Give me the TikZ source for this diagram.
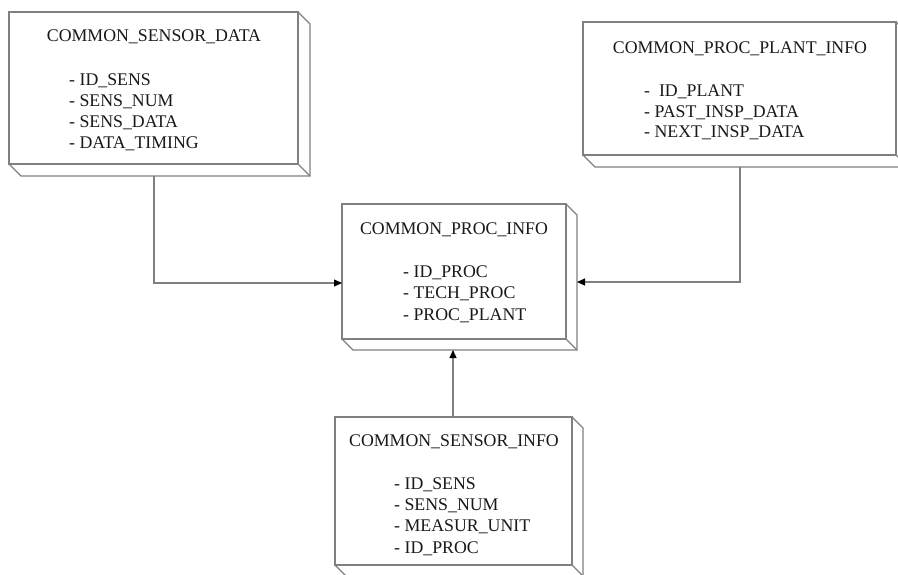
\documentclass[tikz,border=0pt]{standalone}
\usepackage{fontspec}
\setmainfont{Liberation Serif}
\usetikzlibrary{calc,arrows.meta}
\newcommand{\dd}{11pt}
% draw the right and bottom faces of a 3D box behind its front face
\newcommand{\extrudebox}[2]{%
  \draw[boxline] (#1.north east) -- ++(#2,-#2)
    -- ($(#1.south east)+(#2,-#2)$)
    -- ($(#1.south west)+(#2,-#2)$) -- (#1.south west);
  \draw[boxline] (#1.south east) -- ++(#2,-#2);}
\begin{document}
\begin{tikzpicture}[x=1pt,y=1pt,
  boxline/.style={draw=black!50,line width=1.1pt,line join=miter},
  front/.style={rectangle,draw=black!50,line width=1.1pt,inner sep=0pt,outer sep=0pt,anchor=north west},
  title/.style={anchor=base,inner sep=0pt,text=black!90,font=\fontsize{17.8}{20.7}\selectfont},
  item/.style={anchor=base west,inner sep=0pt,text=black!90,font=\fontsize{17.8}{20.7}\selectfont},
  conn/.style={draw=black!50,line width=1.1pt,-{Triangle[length=8pt,width=7pt,fill=black,color=black]}}]
\useasboundingbox (0,0) rectangle (898,-574);
\clip (0,0) rectangle (898,-574);
\fill[white] (0,0) rectangle (898,-574);

% COMMON_SENSOR_DATA
\node[front,minimum width=289pt,minimum height=152pt] (b1) at (9,-12) {};
\extrudebox{b1}{12pt}
\node[title] (t1) at (154,-41) {COMMON\_SENSOR\_DATA};
\node[item] (i11) at (69,-85) {- ID\_SENS};
\node[item] (i12) at (69,-106) {- SENS\_NUM};
\node[item] (i13) at (69,-127) {- SENS\_DATA};
\node[item] (i14) at (69,-148) {- DATA\_TIMING};

% COMMON_PROC_PLANT_INFO
\node[front,minimum width=313pt,minimum height=133pt] (b2) at (583,-22) {};
\extrudebox{b2}{12pt}
\node[title] (t2) at (740,-53) {COMMON\_PROC\_PLANT\_INFO};
\node[item] (i21) at (644,-96) {-\ \ ID\_PLANT};
\node[item] (i22) at (644,-117) {- PAST\_INSP\_DATA};
\node[item] (i23) at (644,-137) {- NEXT\_INSP\_DATA};

% COMMON_PROC_INFO
\node[front,minimum width=224pt,minimum height=135pt] (b3) at (342,-204) {};
\extrudebox{b3}{\dd}
\node[title] (t3) at (454,-234) {COMMON\_PROC\_INFO};
\node[item] (i31) at (403,-277) {- ID\_PROC};
\node[item] (i32) at (403,-298) {- TECH\_PROC};
\node[item] (i33) at (403,-320) {- PROC\_PLANT};

% COMMON_SENSOR_INFO
\node[front,minimum width=237pt,minimum height=148pt] (b4) at (335,-417) {};
\extrudebox{b4}{\dd}
\node[title] (t4) at (454,-446) {COMMON\_SENSOR\_INFO};
\node[item] (i41) at (394,-489) {- ID\_SENS};
\node[item] (i42) at (394,-510) {- SENS\_NUM};
\node[item] (i43) at (394,-531) {- MEASUR\_UNIT};
\node[item] (i44) at (394,-553) {- ID\_PROC};

% connector end points on the box faces
\coordinate (s1) at (154,-176);
\coordinate (s2) at (740,-167);
\coordinate (s4) at (453,-417);
\coordinate (e1) at (342,-283);
\coordinate (e2) at (577,-282);
\coordinate (e4) at (453,-350);

\draw[conn] (s1) |- (e1);
\draw[conn] (s2) |- (e2);
\draw[conn] (s4) -- (e4);
\end{tikzpicture}
\end{document}
